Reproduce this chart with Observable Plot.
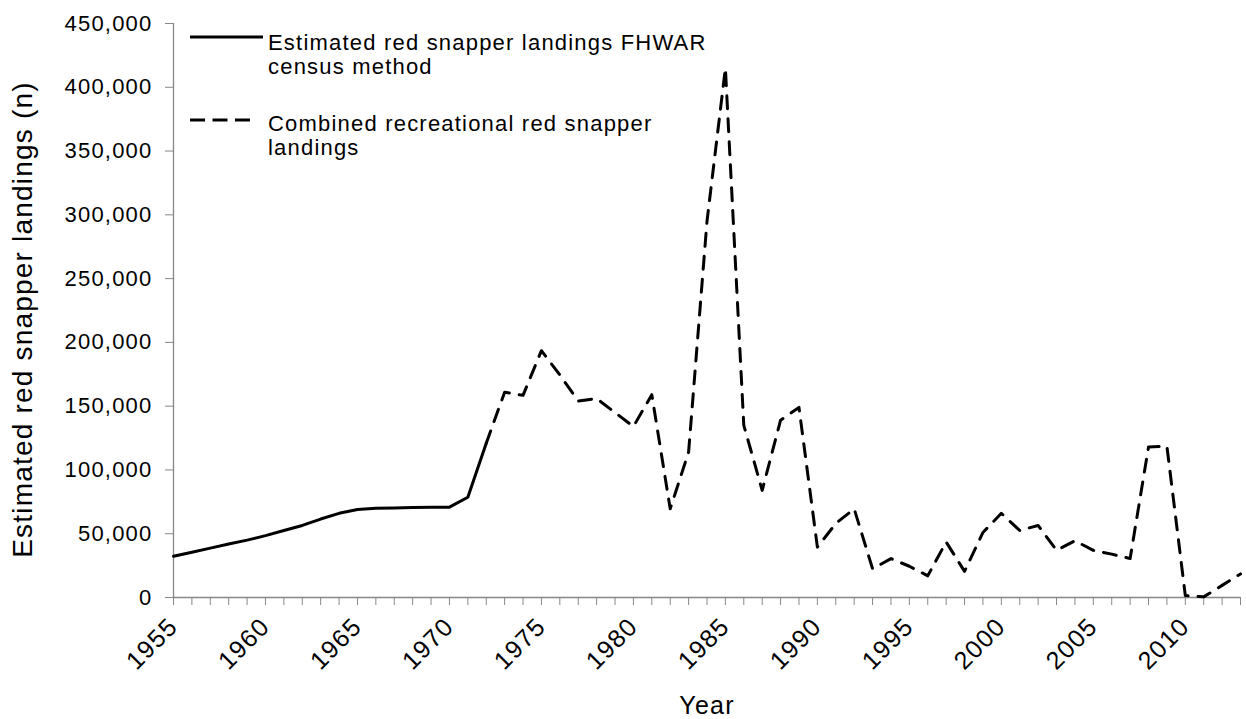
<!DOCTYPE html>
<html>
<head>
<meta charset="utf-8">
<script src="https://cdn.jsdelivr.net/npm/d3@7"></script>
<script src="https://cdn.jsdelivr.net/npm/@observablehq/plot@0.6"></script>
<style>
  html, body { margin: 0; padding: 0; background: #fff; }
  #wrap { position: relative; width: 1246px; height: 719px; font-family: "Liberation Sans", Arial, sans-serif; }
  #wrap svg text { letter-spacing: 1.2px; }
  #legend { position: absolute; left: 0; top: 0; pointer-events: none; }
</style>
</head>
<body>
<div id="wrap"></div>
<script>
// ---- data ----
const solidYears = [1955,1956,1957,1958,1959,1960,1961,1962,1963,1964,1965,1966,1967,1968,1969,1970,1971,1972];
const solidValues = [32300,35500,38700,42000,45000,48500,52500,56500,61500,66000,69000,70000,70200,70500,70700,70800,78600,121000];
const dashedYears = [1972,1973,1974,1975,1976,1977,1978,1979,1980,1981,1982,1983,1984,1985,1986,1987,1988,1989,1990,1991,1992,1993,1994,1995,1996,1997,1998,1999,2000,2001,2002,2003,2004,2005,2006,2007,2008,2009,2010,2011,2012,2013];
const dashedValues = [121000,161000,158500,193500,174500,154000,156000,145000,134000,159000,69500,114000,295000,415000,135000,84000,139000,149000,39500,58000,69500,22500,30500,24500,17000,43500,20500,51000,66000,52500,56500,37000,44500,37000,34000,30500,118000,118500,1500,500,9500,18500];
const yTicks = [0,50000,100000,150000,200000,250000,300000,350000,400000,450000];
const xLabelYears = [1955,1960,1965,1970,1975,1980,1985,1990,1995,2000,2005,2010];
const seriesNames = ["Estimated red snapper landings FHWAR\ncensus method", "Combined recreational red snapper\nlandings"];
const xTitle = "Year";
const yTitle = "Estimated red snapper landings (n)";

const solid = solidYears.map((y, i) => ({year: y, value: solidValues[i]}));
const dashed = dashedYears.map((y, i) => ({year: y, value: dashedValues[i]}));
const allYears = Array.from(new Set([...solidYears, ...dashedYears]));
const axisGray = "#878787";
const fmt = d3.format(",");

const chart = Plot.plot({
  width: 1246,
  height: 719,
  marginLeft: 173,
  marginRight: 6,
  marginTop: 23,
  marginBottom: 122,
  style: {fontFamily: '"Liberation Sans", Arial, sans-serif', background: "white", color: "black", overflow: "visible"},
  x: {domain: [d3.min(allYears), d3.max(allYears)]},
  y: {domain: [0, d3.max(yTicks)]},
  marks: [
    Plot.axisY({ticks: yTicks, tickSize: 8, tickPadding: 13, tickFormat: fmt, label: null, stroke: axisGray, fill: "black", fontSize: 22}),
    Plot.axisX({ticks: allYears, tickSize: 8, tickPadding: 17, tickRotate: -45,
      tickFormat: d => xLabelYears.includes(d) ? String(d) : "", label: null, stroke: axisGray, fill: "black", fontSize: 25}),
    Plot.ruleX([d3.min(allYears)], {stroke: axisGray, strokeWidth: 1.3}),
    Plot.ruleY([0], {stroke: axisGray, strokeWidth: 1.3}),
    Plot.line(solid, {x: "year", y: "value", stroke: "black", strokeWidth: 3}),
    Plot.line(dashed, {x: "year", y: "value", stroke: "black", strokeWidth: 3, strokeDasharray: "13,10"}),
    Plot.text([xTitle], {frameAnchor: "bottom", dy: 116, lineAnchor: "bottom", fontSize: 25, fill: "black"}),
    Plot.text([yTitle], {frameAnchor: "left", rotate: -90, dx: -142, dy: 9, lineAnchor: "bottom", textAnchor: "middle", fontSize: 28, fill: "black"})
  ]
});

const wrap = document.getElementById("wrap");
wrap.appendChild(chart);

// ---- legend (overlay) ----
const leg = d3.select(wrap).append("svg").attr("id", "legend").attr("width", 1246).attr("height", 170)
  .style("font-family", '"Liberation Sans", Arial, sans-serif');
const legendItems = [
  {name: seriesNames[0], dash: null, lineY: 37, textY: 49.5},
  {name: seriesNames[1], dash: "15,7.5", lineY: 120, textY: 130.5}
];
legendItems.forEach(it => {
  leg.append("line").attr("x1", 190).attr("x2", it.dash ? 250 : 263).attr("y1", it.lineY).attr("y2", it.lineY)
    .attr("stroke", "black").attr("stroke-width", 3.2).attr("stroke-dasharray", it.dash);
  const t = leg.append("text").attr("x", 268).attr("y", it.textY).attr("font-size", 22).attr("fill", "black");
  it.name.split("\n").forEach((s, i) => {
    t.append("tspan").attr("x", 268).attr("dy", i === 0 ? 0 : 24).text(s);
  });
});
</script>
</body>
</html>
